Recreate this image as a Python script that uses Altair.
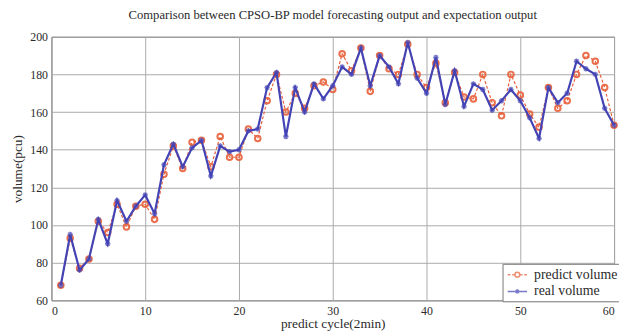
import altair as alt
import pandas as pd

cycles = list(range(1, 61))
real_volume = [68, 95, 76, 82, 103, 90, 113, 102, 110, 116,
               106, 132, 143, 131, 141, 145, 126, 142, 139, 140,
               150, 151, 173, 181, 147, 173, 160, 175, 167, 174,
               184, 180, 194, 174, 190, 184, 175, 197, 178, 170,
               189, 164, 182, 163, 175, 172, 161, 166, 172, 166,
               157, 146, 173, 165, 170, 187, 183, 180, 162, 153]
predict_volume = [68, 93, 77, 82, 102, 96, 111, 99, 110, 111,
                  103, 127, 142, 130, 144, 145, 131, 147, 136, 136,
                  151, 146, 166, 180, 160, 170, 162, 174, 176, 172,
                  191, 182, 194, 171, 190, 183, 180, 196, 180, 173,
                  186, 165, 181, 168, 167, 180, 165, 158, 180, 169,
                  159, 152, 173, 162, 166, 180, 190, 187, 173, 153]
series_names = ["predict volume", "real volume"]
x_ticks = [0, 10, 20, 30, 40, 50, 60]
y_ticks = [60, 80, 100, 120, 140, 160, 180, 200]

RED = "#e8603a"
BLUE = "#4343b5"
FONT = "Liberation Serif"
TXT = "#2a2a2a"

df = pd.DataFrame({"cycle": cycles, "real": real_volume, "predict": predict_volume})
long = pd.concat([
    pd.DataFrame({"cycle": cycles, "volume": predict_volume, "series": series_names[0]}),
    pd.DataFrame({"cycle": cycles, "volume": real_volume, "series": series_names[1]}),
])

xscale = alt.Scale(domain=[0, 60], nice=False)
yscale = alt.Scale(domain=[60, 200], nice=False)
xaxis = alt.Axis(values=x_ticks, title="predict cycle(2min)", grid=True, labelOverlap=False)
yaxis = alt.Axis(values=y_ticks, title="volume(pcu)", grid=True, labelOverlap=False)


def X():
    return alt.X("cycle:Q", scale=xscale, axis=xaxis)


def Y(field):
    return alt.Y(field, type="quantitative", scale=yscale, axis=yaxis)


base = alt.Chart(df)
pred_line = base.mark_line(color=RED, strokeWidth=1.2, strokeDash=[3, 2]).encode(x=X(), y=Y("predict"))
pred_pts = base.mark_point(color=RED, filled=False, strokeWidth=2, size=32, opacity=0.9).encode(x=X(), y=Y("predict"))
real_line = base.mark_line(color=BLUE, strokeWidth=2.2).encode(x=X(), y=Y("real"))
star = "M-1,0L1,0M0,-1L0,1M-0.7,-0.7L0.7,0.7M-0.7,0.7L0.7,-0.7"
real_pts = base.mark_point(color=BLUE, shape=star, filled=False, strokeWidth=1.5, size=30).encode(x=X(), y=Y("real"))

pred_sym = ("M-1.4,0L-1.0,0M-0.75,0L-0.45,0M0.45,0L0.75,0M1.0,0L1.4,0"
            "M-0.35,0A0.35,0.35 0 1,1 0.35,0A0.35,0.35 0 1,1 -0.35,0")
real_sym = ("M-1.4,0L1.4,0M-0.3,0L0.3,0M0,-0.3L0,0.3"
            "M-0.22,-0.22L0.22,0.22M-0.22,0.22L0.22,-0.22")

legend = alt.Legend(title=None, orient="none", legendX=457, legendY=230,
                    strokeColor="#777", fillColor="white", padding=3,
                    labelFont=FONT, labelFontSize=14, labelColor=TXT,
                    symbolSize=196, symbolStrokeWidth=1.5, symbolOffset=4,
                    labelOffset=9, rowPadding=2, cornerRadius=0)
leg_layer = alt.Chart(long).transform_filter("false").mark_point(filled=False, strokeWidth=1.5).encode(
    x=X(), y=Y("volume"),
    color=alt.Color("series:N", scale=alt.Scale(domain=series_names, range=[RED, BLUE]), legend=legend),
    shape=alt.Shape("series:N", scale=alt.Scale(domain=series_names, range=[pred_sym, real_sym]), legend=legend),
)

chart = alt.layer(pred_line, pred_pts, real_line, real_pts, leg_layer).properties(
    width=570, height=267,
    title=alt.TitleParams("Comparison between CPSO-BP model forecasting output and expectation output",
                          font=FONT, fontSize=12.8, fontWeight="normal", color=TXT, offset=9),
    autosize=alt.AutoSizeParams(type="none"),
    padding={"left": 44, "top": 27, "right": 5, "bottom": 34},
).configure_view(stroke="#555", strokeWidth=1).configure_axis(
    labelFont=FONT, labelFontSize=12, labelColor=TXT,
    titleFont=FONT, titleFontSize=13.5, titleFontWeight="normal", titleColor=TXT,
    gridColor="#aaa", gridWidth=1, ticks=False, domain=False, labelPadding=4,
).configure_axisY(titlePadding=5).configure_axisX(titlePadding=1, labelPadding=5)

chart.save("out.html", embed_options={"renderer": "svg", "actions": False})
